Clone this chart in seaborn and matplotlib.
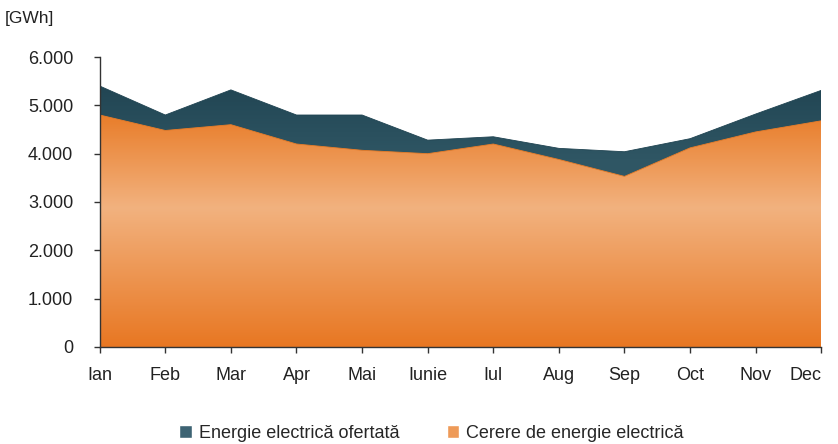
# Cerere vs. energie electrica ofertata pe luni (grafic de tip arie cu gradient)

import numpy as np
import pandas as pd
import matplotlib.pyplot as plt
import seaborn as sns
from matplotlib.colors import LinearSegmentedColormap
from matplotlib.patches import Patch
from matplotlib.ticker import FuncFormatter

luni = ['Ian', 'Feb', 'Mar', 'Apr', 'Mai', 'Iunie', 'Iul', 'Aug', 'Sep', 'Oct', 'Nov', 'Dec']
oferta = [5400, 4800, 5320, 4800, 4800, 4280, 4350, 4110, 4040, 4310, 4820, 5310]
cerere = [4800, 4480, 4600, 4200, 4070, 4000, 4200, 3880, 3530, 4120, 4450, 4680]
y_ticks = [0, 1000, 2000, 3000, 4000, 5000, 6000]

df = pd.DataFrame({'luna': luni, 'oferta': oferta, 'cerere': cerere})
df['x'] = np.arange(len(luni))

sns.set_style("ticks")
plt.rcParams['font.family'] = ['Liberation Sans', 'DejaVu Sans']

fig, ax = plt.subplots(figsize=(8.38, 4.44), dpi=100)
fig.subplots_adjust(left=0.119, right=0.98, top=0.8716, bottom=0.2185)

cmap_oferta = LinearSegmentedColormap.from_list(
    'oferta', [(0, '#3a6170'), (0.65, '#2f5664'), (1, '#1c3f4d')])
cmap_cerere = LinearSegmentedColormap.from_list(
    'cerere', [(0, '#e87722'), (0.48, '#f2b27f'), (0.82, '#e87a25'), (1, '#e87a25')])


def arie_gradient(ax, x, y, cmap, z):
    poly = ax.fill_between(x, 0, y, facecolor='none', edgecolor='none')
    grad = np.linspace(0, 1, 256).reshape(-1, 1)
    im = ax.imshow(grad, cmap=cmap, aspect='auto', origin='lower',
                   extent=[x.min(), x.max(), 0, 6000], zorder=z, interpolation='bilinear')
    im.set_clip_path(poly.get_paths()[0], transform=ax.transData)
    return im


arie_gradient(ax, df['x'].values, df['oferta'].values, cmap_oferta, 1)
arie_gradient(ax, df['x'].values, df['cerere'].values, cmap_cerere, 2)
sns.lineplot(data=df, x='x', y='oferta', color='#1f4351', lw=0.6, ax=ax, zorder=1.5)
sns.lineplot(data=df, x='x', y='cerere', color='#e87c28', lw=0.6, ax=ax, zorder=2.5)

ax.set_xlim(0, len(luni) - 1)
ax.set_ylim(0, 6000)
ax.set_xlabel('')
ax.set_ylabel('')
ax.set_xticks(df['x'])
ax.set_xticklabels(luni)
ax.get_xticklabels()[-1].set_horizontalalignment('right')
ax.set_yticks(y_ticks)
ax.yaxis.set_major_formatter(FuncFormatter(lambda v, p: f"{int(v):,}".replace(',', '.')))
ax.tick_params(axis='x', direction='out', length=4, width=1, color='#333333',
               labelsize=13, labelcolor='#222222', pad=10.5)
ax.tick_params(axis='y', direction='out', length=4, width=1, color='#333333',
               labelsize=13, labelcolor='#222222', pad=15)
for s in ['top', 'right']:
    ax.spines[s].set_visible(False)
for s in ['left', 'bottom']:
    ax.spines[s].set_color('#333333')
    ax.spines[s].set_linewidth(1)
    ax.spines[s].set_zorder(5)

fig.text(0.006, 1 - 18 / 444, '[GWh]', ha='left', va='center', fontsize=12.5, color='#222222')

handles = [Patch(facecolor='#3d6373', label='Energie electrică ofertată'),
           Patch(facecolor='#ee9a58', label='Cerere de energie electrică')]
fig.legend(handles=handles, loc='lower center', bbox_to_anchor=(0.515, -0.032), ncol=2,
           frameon=False, fontsize=13, handlelength=0.7, handleheight=0.7,
           handletextpad=0.4, columnspacing=2.6)

plt.savefig('out.png', dpi=100)
